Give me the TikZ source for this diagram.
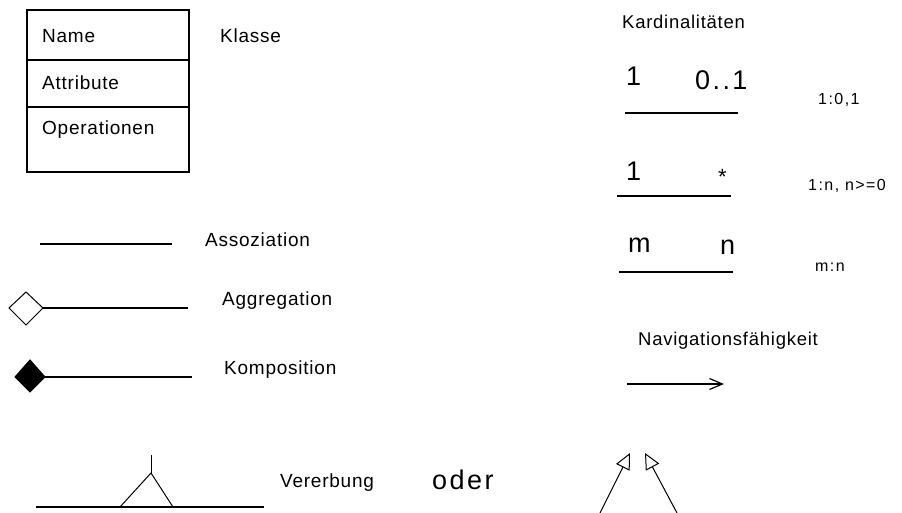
\documentclass[tikz,border=0pt]{standalone}
\usepackage{fontspec}
\setmainfont{Liberation Sans}[LetterSpace=4]
\newfontfamily\widefont{Liberation Sans}[LetterSpace=9]
\usetikzlibrary{arrows.meta}

\begin{document}
\begin{tikzpicture}[x=1pt,y=-1pt,
  lbl/.style={anchor=west,inner sep=0pt,font=\fontsize{19}{22}\selectfont},
  rlbl/.style={anchor=west,inner sep=0pt,font=\fontsize{18.5}{21}\selectfont},
  small/.style={anchor=west,inner sep=0pt,font=\widefont\fontsize{16}{18}\selectfont},
  big/.style={anchor=west,inner sep=0pt,font=\widefont\fontsize{27}{30}\selectfont},
  ln/.style={black,line width=1.3pt}]
\useasboundingbox (0,0) rectangle (902,513);
% Klasse
\draw[black,line width=1.2pt] (27,10) rectangle (189,172);
\draw[black,line width=1.2pt] (27,60) -- (189,60);
\draw[black,line width=1.2pt] (27,107) -- (189,107);
\node[lbl] (name) at (42,36) {Name};
\node[lbl] (attr) at (42,83) {Attribute};
\node[lbl] (ops) at (42,130) {Operationen};
\node[lbl] (klasse) at (220,36) {Klasse};
% Assoziation
\coordinate (asA) at (40,244);
\coordinate (asB) at (172,244);
\draw[ln] (asA) -- (asB);
\node[lbl] (assoz) at (205,240) {Assoziation};
% Aggregation
\coordinate (agA) at (43,308);
\coordinate (agB) at (188,308);
\draw[ln] (agA) -- (agB);
\draw[black,line width=1pt] (9,308) -- (26,292) -- (agA) -- (26,325) -- cycle;
\node[lbl] (aggr) at (222,301) {Aggregation};
% Komposition
\coordinate (koA) at (45,377);
\coordinate (koB) at (192,377);
\draw[ln] (koA) -- (koB);
\draw[black,fill=black,line width=1pt] (15,377) -- (30,360) -- (koA) -- (30,392) -- cycle;
\node[lbl] (kompo) at (224,370) {Komposition};
% Vererbung
\coordinate (veA) at (36,507);
\coordinate (veB) at (264,507);
\coordinate (apex) at (151,473);
\coordinate (stem) at (151,455);
\draw[black,line width=1.8pt] (veA) -- (veB);
\draw[black,line width=1pt] (120,507) -- (apex) -- (173,507);
\draw[black,line width=1pt] (apex) -- (stem);
\node[lbl] (vererb) at (280,483) {Vererbung};
\node[big] (oder) at (432,480) {oder};
\coordinate (liA) at (600,513);
\coordinate (liB) at (630,453);
\coordinate (reA) at (677,513);
\coordinate (reB) at (645,453);
\draw[black,line width=1pt,-{Triangle[open,length=16pt,width=15pt]}] (liA) -- (liB);
\draw[black,line width=1pt,-{Triangle[open,length=16pt,width=15pt]}] (reA) -- (reB);
% Kardinalitaeten
\node[rlbl] (kard) at (622,22) {Kardinalitäten};
\node[big] (k1a) at (626,76) {1};
\node[big] (k1b) at (695,80) {0..1};
\coordinate (k1l) at (625,113);
\coordinate (k1r) at (738,113);
\draw[ln] (k1l) -- (k1r);
\node[small] (k1t) at (818,100) {1:0,1};
\node[big] (k2a) at (626,171) {1};
\node[anchor=west,inner sep=0pt,font=\fontsize{22}{24}\selectfont] (k2b) at (718,177) {*};
\coordinate (k2l) at (617,196);
\coordinate (k2r) at (731,196);
\draw[ln] (k2l) -- (k2r);
\node[small] (k2t) at (808,186) {1:n, n>=0};
\node[big] (k3a) at (628,245) {m};
\node[big] (k3b) at (720,247) {n};
\coordinate (k3l) at (619,272);
\coordinate (k3r) at (733,272);
\draw[ln] (k3l) -- (k3r);
\node[small] (k3t) at (815,267) {m:n};
% Navigation
\node[rlbl] (navi) at (638,341) {Navigationsfähigkeit};
\coordinate (naA) at (627,384);
\coordinate (naB) at (724,384);
\draw[black,line width=1.2pt,-{Straight Barb[length=13pt,width=11pt]}] (naA) -- (naB);
\end{tikzpicture}
\end{document}
